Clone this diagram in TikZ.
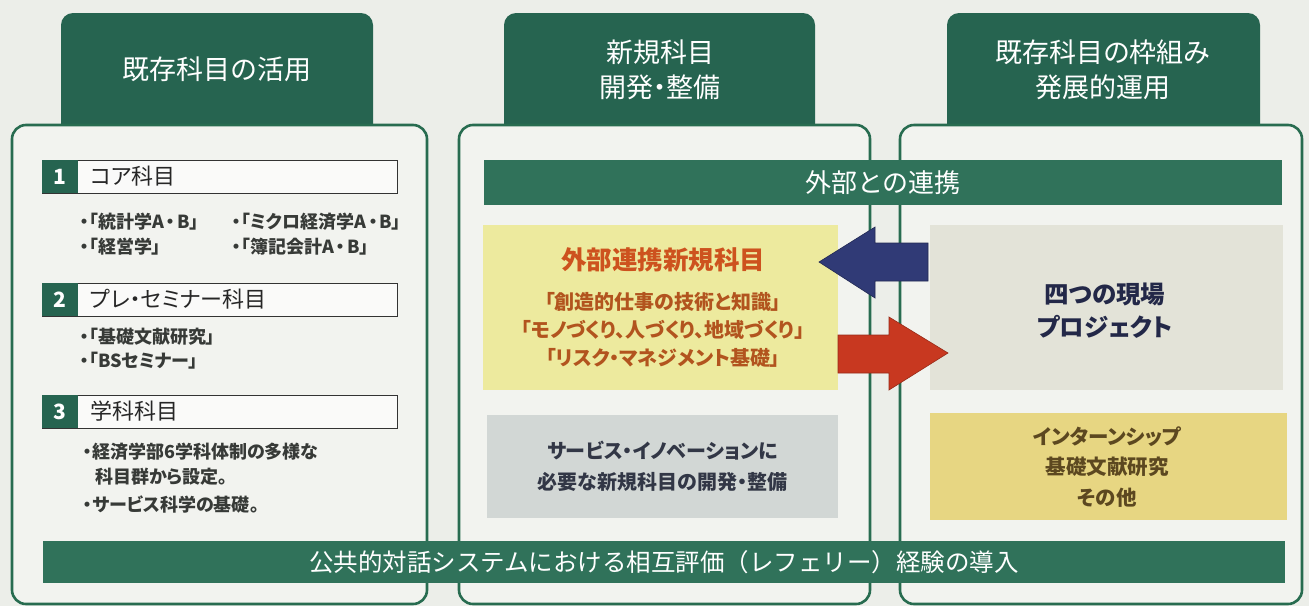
\documentclass[tikz,border=0pt]{standalone}
\usepackage{fontspec}
\setmainfont{Noto Sans CJK JP}[RawFeature=+palt]
\newfontfamily\jpfull{Noto Sans CJK JP}
\newcommand{\mdot}{\kern2pt・\kern2pt}
\definecolor{bgc}{RGB}{236,238,233}
\definecolor{innerc}{RGB}{242,243,239}
\definecolor{tabg}{RGB}{38,100,80}
\definecolor{bandg}{RGB}{48,114,90}
\definecolor{frameg}{RGB}{40,108,80}
\definecolor{itemc}{RGB}{55,58,55}
\definecolor{yellowA}{RGB}{237,234,158}
\definecolor{titleor}{RGB}{205,82,30}
\definecolor{subor}{RGB}{178,84,30}
\definecolor{greyA}{RGB}{210,215,213}
\definecolor{greytxt}{RGB}{50,55,70}
\definecolor{greyB}{RGB}{227,227,216}
\definecolor{navytxt}{RGB}{35,40,72}
\definecolor{yellowB}{RGB}{231,214,130}
\definecolor{browntxt}{RGB}{92,72,32}
\definecolor{bluearr}{RGB}{48,58,118}
\definecolor{redarr}{RGB}{200,56,32}
\begin{document}
\begin{tikzpicture}[x=1pt,y=-1pt,
  tabtxt/.style={text=white, font=\fontsize{27}{35}\selectfont, align=center},
  frame/.style={draw=frameg, line width=2.6pt, fill=innerc, rounded corners=14pt},
  tabshape/.style={fill=tabg, rounded corners=12pt},
  band/.style={fill=bandg, text=white, inner sep=0pt},
  hdrbox/.style={draw=black!80, line width=1.1pt, fill=white!60!innerc, inner sep=0pt, anchor=north west},
  numcell/.style={fill=tabg, text=white, inner sep=0pt, anchor=north west, minimum width=36pt, minimum height=33pt, font=\fontsize{21}{24}\selectfont\bfseries},
  hdrtxt/.style={anchor=west, text=black!85, inner sep=0pt, font=\fontsize{22}{26}\selectfont},
  item/.style={anchor=west, text=itemc, inner sep=0pt, font=\fontsize{18}{24}\selectfont\bfseries},
  boxtxt/.style={align=center, inner sep=0pt}
]
\fill[bgc] (0,0) rectangle (1309,606);
\useasboundingbox (0,0) rectangle (1309,606);

% tabs
\fill[tabshape] (61,13) rectangle (373,150);
\fill[tabshape] (504,13) rectangle (815,150);
\fill[tabshape] (947,13) rectangle (1260,150);

% frames
\draw[frame] (12,125) rectangle (427,604);
\draw[frame] (459,125) rectangle (870,604);
\draw[frame] (900,125) rectangle (1302,604);

% tab texts
\node[tabtxt] (t1) at (217,69) {既存科目の活用};
\node[tabtxt] (t2) at (660,70) {新規科目\\開発・整備};
\node[tabtxt] (t3) at (1103,70) {既存科目の枠組み\\発展的運用};

% left panel sections
\node[hdrbox, minimum width=355pt, minimum height=33pt] (h1) at (42,160) {};
\node[numcell] (n1) at (42,160) {1};
\node[hdrtxt] (h1t) at (90,176.5) {コア科目};
\node[item] (i11) at (80,222) {・「統計学A\mdot B」};
\node[item] (i12) at (232,222) {・「ミクロ経済学A\mdot B」};
\node[item] (i13) at (80,247) {・「経営学」};
\node[item] (i14) at (232,247) {・「簿記会計A\mdot B」};

\node[hdrbox, minimum width=355pt, minimum height=33pt] (h2) at (42,283) {};
\node[numcell] (n2) at (42,283) {2};
\node[hdrtxt] (h2t) at (90,299.5) {プレ・セミナー科目};
\node[item] (i21) at (80,337) {・「基礎文献研究」};
\node[item] (i22) at (80,361) {・「BSセミナー」};

\node[hdrbox, minimum width=355pt, minimum height=33pt] (h3) at (42,395) {};
\node[numcell] (n3) at (42,395) {3};
\node[hdrtxt] (h3t) at (90,411.5) {学科科目};
\node[item] (i31) at (83,452) {・経済学部6学科体制の多様な};
\node[item] (i32) at (95,477) {科目群から設定。};
\node[item] (i33) at (83,505) {・サービス科学の基礎。};

% top band
\node[band, minimum width=798pt, minimum height=45pt, font=\jpfull\fontsize{26}{30}\selectfont] (renkei) at (883,182.5) {外部との連携};

% middle boxes
\node[fill=yellowA, minimum width=355pt, minimum height=165pt, inner sep=0pt] (ybox) at (660.5,307.5) {};
\node[boxtxt, text=titleor, font=\fontsize{25.5}{30}\selectfont\bfseries] (ytitle) at (663,260) {外部連携新規科目};
\node[boxtxt, text=subor, font=\fontsize{20}{28}\selectfont\bfseries] (ysub) at (663,330) {「創造的仕事の技術と知識」\\「モノづくり、人づくり、地域づくり」\\「リスク・マネジメント基礎」};

\node[fill=greyA, minimum width=351pt, minimum height=103pt, inner sep=0pt] (gbox) at (662.5,466.5) {};
\node[boxtxt, text=greytxt, font=\fontsize{20}{31}\selectfont\bfseries] (gtxt) at (gbox.center) {サービス・イノベーションに\\必要な新規科目の開発・整備};

% right boxes
\node[fill=greyB, minimum width=353pt, minimum height=165pt, inner sep=0pt] (rbox) at (1106.5,307.5) {};
\node[boxtxt, text=navytxt, font=\fontsize{24.5}{33}\selectfont\bfseries] (rtxt) at (1105,311) {四つの現場\\プロジェクト};

\node[fill=yellowB, minimum width=357pt, minimum height=107pt, inner sep=0pt] (ybox2) at (1108.5,466.5) {};
\node[boxtxt, text=browntxt, font=\fontsize{20.5}{30.5}\selectfont\bfseries] (ytxt2) at (1107,467) {インターンシップ\\基礎文献研究\\その他};

% arrows
\fill[bluearr, draw=bluearr!70!black, line width=0.6pt] (819,262) -- (875,227) -- (875,243) -- (928,243) -- (928,281) -- (875,281) -- (875,298) -- cycle;
\fill[redarr, draw=redarr!75!black, line width=0.6pt] (838,335) -- (889,335) -- (889,317) -- (948,353) -- (889,390) -- (889,373) -- (838,373) -- cycle;

% bottom band
\node[band, minimum width=1242pt, minimum height=42pt, font=\jpfull\fontsize{24.5}{28}\selectfont] (bottom) at (664,562) {公共的対話システムにおける相互評価（レフェリー）経験の導入};
\end{tikzpicture}
\end{document}
